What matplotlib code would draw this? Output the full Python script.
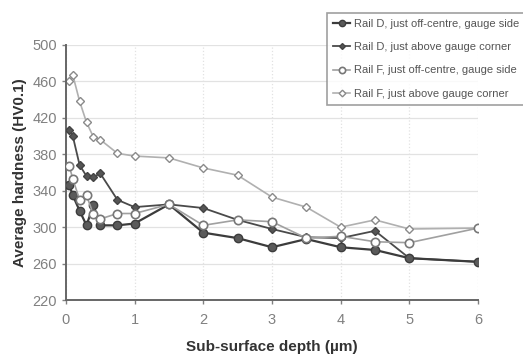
import matplotlib
matplotlib.use("Agg")
import matplotlib.pyplot as plt

plt.rcParams["font.family"] = ["Liberation Sans", "DejaVu Sans"]

depth = [0.05, 0.1, 0.2, 0.3, 0.4, 0.5, 0.75, 1, 1.5, 2, 2.5, 3, 3.5, 4, 4.5, 5, 6]

d_offcentre = [346, 335, 318, 302, 324, 302, 302, 304, 325, 294, 288, 278, 287, 278, 275, 266, 262]
d_corner = [407, 400, 368, 356, 355, 359, 330, 322, 325, 321, 308, 298, 289, 288, 296, 266, 262]
f_offcentre = [367, 353, 330, 335, 314, 309, 315, 315, 325, 302, 308, 306, 288, 290, 284, 283, 299]
f_corner = [460, 467, 438, 415, 399, 396, 381, 378, 376, 365, 357, 333, 322, 300, 308, 298, 299]

labels = ["Rail D, just off-centre, gauge side",
          "Rail D, just above gauge corner",
          "Rail F, just off-centre, gauge side",
          "Rail F, just above gauge corner"]

fig = plt.figure(figsize=(5.23, 3.56), dpi=100)
ax = fig.add_axes([0.126, 0.157, 0.788, 0.717])

ax.plot(depth, d_offcentre, color="#3c3c3c", lw=1.6, marker="o", ms=6,
        mfc="#5a5a5a", mec="#3c3c3c", label=labels[0], zorder=4)
ax.plot(depth, d_corner, color="#4a4a4a", lw=1.3, marker="D", ms=4,
        mfc="#555555", mec="#444444", label=labels[1], zorder=3)
ax.plot(depth, f_offcentre, color="#a0a0a0", lw=1.2, marker="o", ms=6,
        mfc="white", mec="#777777", mew=1.2, label=labels[2], zorder=5)
ax.plot(depth, f_corner, color="#b0b0b0", lw=1.2, marker="D", ms=4.5,
        mfc="white", mec="#8a8a8a", mew=1.0, label=labels[3], zorder=2)

ax.set_xlim(0, 6)
ax.set_ylim(220, 500)
ax.set_xticks(range(0, 7))
ax.set_yticks(range(220, 501, 40))
ax.grid(True, axis="y", color="#e2e2e2", lw=0.9)
ax.grid(True, axis="x", color="#e2e2e2", lw=0.9, ls=":")

for s in ["top", "right"]:
    ax.spines[s].set_visible(False)
for s in ["left", "bottom"]:
    ax.spines[s].set_color("#666666")
    ax.spines[s].set_linewidth(1.4)

ax.tick_params(colors="#808080", labelsize=10.5, length=3, width=1)
ax.tick_params(axis="x", pad=6)
ax.set_xlabel("Sub-surface depth (\u00b5m)", fontsize=11, fontweight="bold",
              color="#333333", labelpad=10)
ax.set_ylabel("Average hardness (HV0.1)", fontsize=11, fontweight="bold",
              color="#333333", labelpad=4)

# legend runs off the right edge, as in the original
leg = fig.legend(loc="upper left", bbox_to_anchor=(0.615, 0.98), fontsize=8,
                 frameon=True, fancybox=False, edgecolor="#888888",
                 labelspacing=1.2, handlelength=1.5, handletextpad=0.4,
                 borderpad=0.55, markerscale=0.75)
leg.get_frame().set_linewidth(1.2)
for t in leg.get_texts():
    t.set_color("#555555")

fig.savefig("out.png", dpi=100)
